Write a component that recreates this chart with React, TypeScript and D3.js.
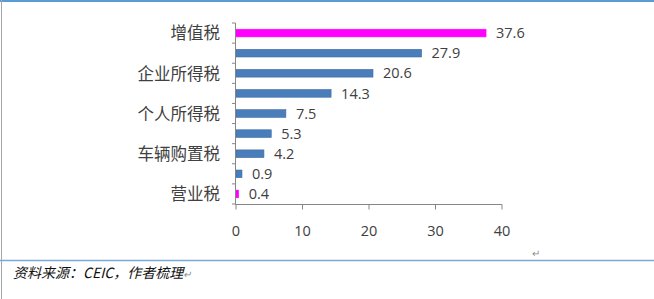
import React from "react";
import * as d3 from "d3";

const categories = ["增值税", "", "企业所得税", "", "个人所得税", "", "车辆购置税", "", "营业税"];
const values = [37.6, 27.9, 20.6, 14.3, 7.5, 5.3, 4.2, 0.9, 0.4];
const highlight = [true, false, false, false, false, false, false, false, true];
const xTicks = [0, 10, 20, 30, 40];
const footerText = "资料来源：CEIC，作者梳理";

const W = 654;
const H = 299;

export default function App() {
  const x = d3.scaleLinear().domain([0, 40]).range([236, 502]);
  const y = d3
    .scaleBand<number>()
    .domain(values.map((_, i) => i))
    .range([23, 204])
    .paddingInner(0.62)
    .paddingOuter(0.31);
  const step = y.step();
  const bw = y.bandwidth();
  const axisY = 204.5;
  const boundaries = d3.range(values.length + 1).map((i) => 23 + i * step);
  const cjk = "'Noto Sans CJK SC', 'Noto Sans', sans-serif";
  const num = "'Open Sans', 'Noto Sans', sans-serif";

  return (
    <svg
      width={W}
      height={H}
      style={{ position: "absolute", left: 0, top: 0, background: "#fff" }}
    >
      <rect x={0} y={0} width={W} height={H} fill="#fff" />
      {/* frame */}
      <line x1={0} x2={W} y1={1} y2={1} stroke="#5b9bd5" strokeWidth={2} />
      <line x1={1.5} x2={1.5} y1={0} y2={H} stroke="#a6a6a6" strokeWidth={1} />
      <line x1={0} x2={W} y1={260.5} y2={260.5} stroke="#7ea7dc" strokeWidth={1.5} />

      {/* bars */}
      {values.map((v, i) => (
        <rect
          key={i}
          x={x(0)}
          y={y(i)!}
          width={x(v) - x(0)}
          height={bw}
          fill={highlight[i] ? "#ff00ff" : "#4a7ebb"}
          stroke={highlight[i] ? "#ff00ff" : "#3a6aa6"}
          strokeWidth={0.6}
        />
      ))}

      {/* value labels */}
      {values.map((v, i) => (
        <text
          key={i}
          x={x(v) + 10}
          y={y(i)! + bw / 2}
          dy="0.36em"
          fontFamily={num}
          fontSize={14.5}
          fill="#404040"
        >
          {v.toFixed(1)}
        </text>
      ))}

      {/* category axis */}
      <line x1={x(0) - 0.5} x2={x(0) - 0.5} y1={23} y2={axisY} stroke="#868686" strokeWidth={1} />
      {boundaries.map((b, i) => (
        <line key={i} x1={x(0) - 4} x2={x(0) - 0.5} y1={b} y2={b} stroke="#868686" strokeWidth={1} />
      ))}
      {categories.map((c, i) =>
        c ? (
          <text
            key={i}
            x={220}
            y={y(i)! + bw / 2}
            dy="0.38em"
            textAnchor="end"
            fontFamily={cjk}
            fontSize={16.5}
            fill="#404040"
          >
            {c}
          </text>
        ) : null
      )}

      {/* value axis */}
      <line x1={x(0) - 0.5} x2={x(40)} y1={axisY} y2={axisY} stroke="#868686" strokeWidth={1} />
      {xTicks.map((t) => (
        <g key={t}>
          <line x1={x(t)} x2={x(t)} y1={axisY} y2={axisY + 5} stroke="#868686" strokeWidth={1} />
          <text
            x={x(t)}
            y={231}
            dy="0.36em"
            textAnchor="middle"
            fontFamily={num}
            fontSize={14.5}
            fill="#404040"
          >
            {t}
          </text>
        </g>
      ))}

      {/* paragraph mark */}
      <text x={532} y={257} fontFamily={num} fontSize={10} fill="#8c8c8c">
        ↵
      </text>

      {/* footer */}
      <text
        x={13}
        y={273}
        dy="0.36em"
        fontFamily={cjk}
        fontSize={14}
        fontStyle="italic"
        fill="#111"
      >
        {footerText}
        <tspan fill="#8c8c8c" fontSize={10}>↵</tspan>
      </text>
    </svg>
  );
}
